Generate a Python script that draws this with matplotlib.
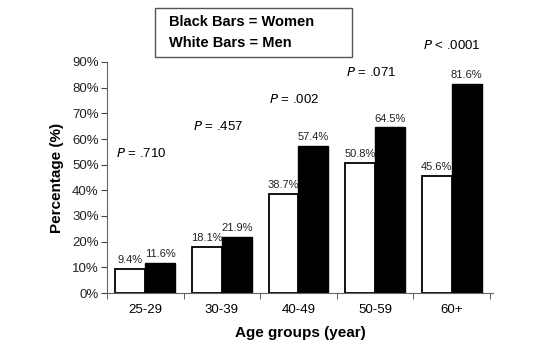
import matplotlib
matplotlib.use("Agg")
import matplotlib.pyplot as plt
import numpy as np

plt.rcParams['font.family'] = ['Liberation Sans', 'DejaVu Sans']

categories = ["25-29", "30-39", "40-49", "50-59", "60+"]
men = [9.4, 18.1, 38.7, 50.8, 45.6]      # white bars
women = [11.6, 21.9, 57.4, 64.5, 81.6]   # black bars
pvals = ["= .710", "= .457", "= .002", "= .071", "< .0001"]
p_y = [54.5, 65, 75.5, 86, 96.5]

fig = plt.figure(figsize=(5.54, 3.57), dpi=100)
ax = fig.add_axes([107/554, 1-293/357, (493-107)/554, (293-62)/357])

x = np.arange(len(categories))
w = 0.39
ax.bar(x - w/2, men, w, color='white', edgecolor='black', linewidth=1.3)
ax.bar(x + w/2, women, w, color='black', edgecolor='black', linewidth=1.0)

for i in range(len(categories)):
    ax.text(x[i] - w/2, men[i] + 1.5, f"{men[i]:.1f}%", ha='center', va='bottom', fontsize=8, color='#222222')
    ax.text(x[i] + w/2, women[i] + 1.5, f"{women[i]:.1f}%", ha='center', va='bottom', fontsize=8, color='#222222')
    ax.text(x[i] - 0.38, p_y[i], "$\\it{P}$ " + pvals[i], ha='left', va='center', fontsize=9.5, clip_on=False)

ax.set_xlim(-0.5, 4.54)
ax.set_ylim(0, 90)
ax.set_yticks(np.arange(0, 91, 10))
ax.set_yticklabels([f"{v}%" for v in range(0, 91, 10)], fontsize=9.5, color='#222222')
ax.set_xticks(x)
ax.set_xticklabels(categories, fontsize=9.5)
ax.tick_params(axis='x', length=0, pad=8)
ax.set_xticks(np.arange(-0.5, 5, 1), minor=True)
ax.tick_params(axis='x', which='minor', length=4, direction='out', color='#444444')
ax.tick_params(axis='y', length=4, direction='out', color='#444444', pad=2)

for s in ['top', 'right']:
    ax.spines[s].set_visible(False)
ax.spines['left'].set_color('#666666')
ax.spines['bottom'].set_color('#666666')

ax.set_ylabel("Percentage (%)", fontsize=11, fontweight='bold', labelpad=6)
ax.set_xlabel("Age groups (year)", fontsize=11, fontweight='bold', labelpad=7)

# legend box
fig.patches.append(plt.Rectangle((155/554, 1-57/357), (352-155)/554, (57-8)/357,
                                 transform=fig.transFigure, facecolor='white',
                                 edgecolor='#555555', linewidth=1.0))
fig.text(169/554, 1-22/357, "Black Bars = Women", fontsize=10.5, fontweight='bold', va='center', ha='left')
fig.text(169/554, 1-43/357, "White Bars = Men", fontsize=10.5, fontweight='bold', va='center', ha='left')

fig.savefig("out.png", dpi=100)
